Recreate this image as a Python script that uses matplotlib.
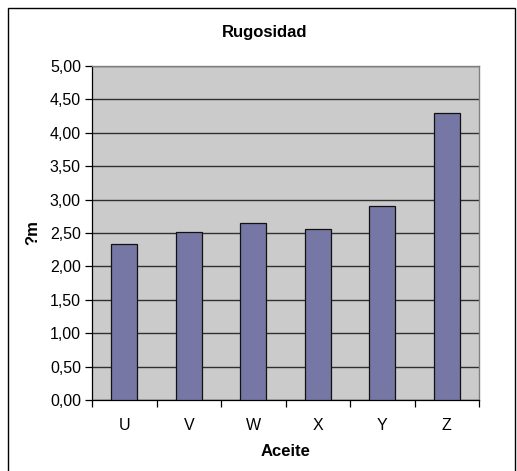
import matplotlib
matplotlib.use("Agg")
import matplotlib.pyplot as plt
import numpy as np
from matplotlib.patches import Rectangle
from matplotlib.ticker import FixedLocator, FuncFormatter

categories = ["U", "V", "W", "X", "Y", "Z"]
values = [2.34, 2.51, 2.65, 2.56, 2.90, 4.30]
yticks = [0, 0.5, 1.0, 1.5, 2.0, 2.5, 3.0, 3.5, 4.0, 4.5, 5.0]

plt.rcParams['font.family'] = ['Liberation Sans', 'DejaVu Sans']

fig = plt.figure(figsize=(5.17, 4.71), dpi=100)
fig.patch.set_facecolor("white")
# outer chart border
fig.add_artist(Rectangle((8/517, -0.01), (515-8)/517, 1.01 - 8/471,
                         transform=fig.transFigure, fill=False,
                         edgecolor="black", linewidth=1.0))

left = 92/517
right = 479/517
top = 1 - 66/471
bottom = 1 - 400/471
ax = fig.add_axes([left, bottom, right-left, top-bottom])
ax.patch.set_facecolor("#cbcbcb")

x = np.arange(len(categories))
ax.bar(x, values, width=0.4, color="#7677a4", edgecolor="#111111", linewidth=0.9, zorder=3)

ax.set_xlim(-0.5, len(categories) - 0.5)
ax.set_ylim(0, 5)
ax.set_yticks(yticks)
ax.yaxis.set_major_formatter(FuncFormatter(lambda v, p: f"{v:.2f}".replace(".", ",")))
ax.grid(axis="y", color="#303030", linewidth=1.0, zorder=1)

ax.set_xticks(x)
ax.set_xticklabels(categories)
ax.xaxis.set_minor_locator(FixedLocator(np.arange(-0.5, len(categories), 1.0)))
ax.tick_params(axis="x", which="major", length=0, pad=13, labelsize=11.5)
ax.tick_params(axis="x", which="minor", length=5, width=0.9, direction="out")
ax.tick_params(axis="y", length=5, width=0.9, direction="out", labelsize=11.5, pad=3)

for s in ["top", "right"]:
    ax.spines[s].set_color("#808080")
    ax.spines[s].set_linewidth(1.0)
for s in ["left", "bottom"]:
    ax.spines[s].set_color("black")
    ax.spines[s].set_linewidth(0.9)

fig.text(265/517, 1 - 33/471, "Rugosidad", fontsize=12, fontweight="bold",
         ha="center", va="center")
ax.set_xlabel("Aceite", fontsize=12, fontweight="bold", labelpad=8)
ax.set_ylabel("?m", fontsize=12, fontweight="bold", labelpad=7)

fig.savefig("out.png", dpi=100)
